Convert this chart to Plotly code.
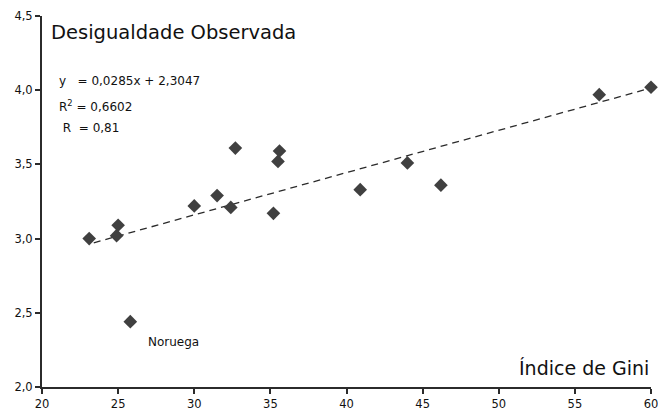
import plotly.graph_objects as go

# Data
gini = [23.1, 24.9, 25.0, 25.8, 30.0, 31.5, 32.4, 32.7, 35.2, 35.5, 35.6, 40.9, 44.0, 46.2, 56.6, 60.0]
desig = [3.00, 3.02, 3.09, 2.44, 3.22, 3.29, 3.21, 3.61, 3.17, 3.52, 3.59, 3.33, 3.51, 3.36, 3.97, 4.02]
slope = 0.0285
intercept = 2.3047
trend_x = [23.4, 60.0]
trend_y = [slope * v + intercept for v in trend_x]

x_ticks = [20, 25, 30, 35, 40, 45, 50, 55, 60]
y_ticks = [2.0, 2.5, 3.0, 3.5, 4.0, 4.5]

FONT = "DejaVu Sans, Arial, sans-serif"
INK = "#2b2b2b"
TXT = "#111111"

fig = go.Figure()
fig.add_trace(go.Scatter(x=trend_x, y=trend_y, mode="lines",
                         line=dict(color=INK, width=1.3, dash="7px,5px"),
                         hoverinfo="skip", showlegend=False, cliponaxis=False))
fig.add_trace(go.Scatter(x=gini, y=desig, mode="markers",
                         marker=dict(symbol="diamond", size=10.5, color="#404040"),
                         showlegend=False, cliponaxis=False))

axis_common = dict(showgrid=False, zeroline=False, showline=True, linecolor=INK, linewidth=2,
                   ticks="outside", ticklen=5, tickwidth=1.5, tickcolor=INK, automargin=False,
                   ticklabeloverflow="allow",
                   tickfont=dict(size=11.5, family=FONT, color=TXT))

fig.update_layout(
    width=658, height=419,
    margin=dict(l=42, r=7, t=16, b=32, autoexpand=False),
    paper_bgcolor="white", plot_bgcolor="white",
    font=dict(family=FONT, color=TXT, size=12),
    xaxis=dict(range=[20, 60], tickvals=x_ticks, ticktext=[str(v) for v in x_ticks], **axis_common),
    yaxis=dict(range=[2.0, 4.5], tickvals=y_ticks,
               ticktext=[f"{v:.1f}".replace(".", ",") for v in y_ticks], **axis_common),
    annotations=[
        dict(text="Desigualdade Observada", xref="paper", yref="paper", x=0.011, y=0.955,
             xanchor="left", yanchor="middle", showarrow=False, font=dict(size=19.5, family=FONT, color=TXT)),
        dict(text="Índice de Gini", xref="paper", yref="paper", x=1.0, y=0.05,
             xanchor="right", yanchor="middle", showarrow=False, font=dict(size=19, family=FONT, color=TXT)),
        dict(text="y   = 0,0285x + 2,3047", xref="paper", yref="paper", x=0.024, y=0.825,
             xanchor="left", yanchor="middle", showarrow=False, font=dict(size=12, family=FONT, color=TXT)),
        dict(text="R<sup>2</sup> = 0,6602", xref="paper", yref="paper", x=0.024, y=0.757,
             xanchor="left", yanchor="middle", showarrow=False, font=dict(size=12, family=FONT, color=TXT)),
        dict(text=" R  = 0,81", xref="paper", yref="paper", x=0.024, y=0.699,
             xanchor="left", yanchor="middle", showarrow=False, font=dict(size=12, family=FONT, color=TXT)),
        dict(text="Noruega", x=26.85, y=2.30, xanchor="left", yanchor="middle", showarrow=False,
             font=dict(size=12, family=FONT, color=TXT)),
    ],
)

fig.write_html("out.html")
